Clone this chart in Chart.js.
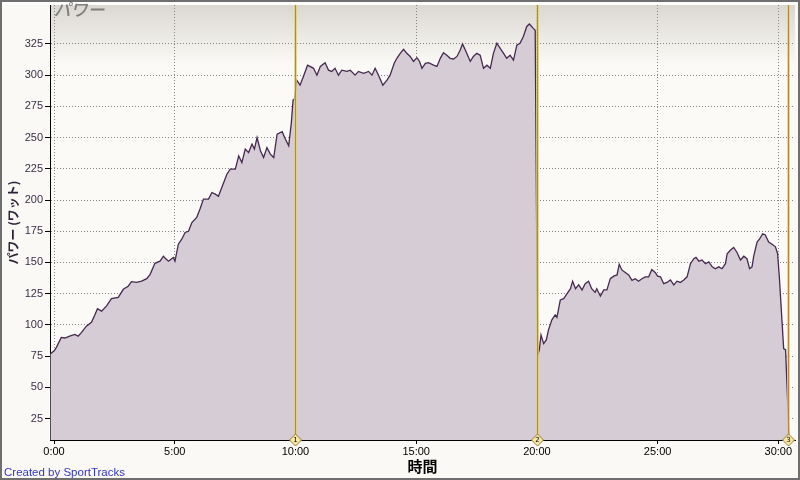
<!DOCTYPE html>
<html>
<head>
<meta charset="utf-8">
<script src="https://cdn.jsdelivr.net/npm/chart.js@4/dist/chart.umd.min.js"></script>
<style>
  html, body { margin: 0; padding: 0; background: #faf9f5; }
  #wrap { width: 800px; height: 480px; }
</style>
</head>
<body>
<div id="wrap"><canvas id="myChart" width="800" height="480"></canvas></div>
<script>
// elapsed time in minutes, power in watts
let times = [
  -0.15, 0.0, 0.1, 0.3, 0.45, 0.65, 0.86, 1.0, 1.14, 1.34, 1.55, 1.69, 1.8, 1.97, 2.17, 2.38, 2.66, 2.87, 3.07, 3.21,
  3.42, 3.63, 3.84, 3.98, 4.18, 4.39, 4.53, 4.63, 4.74, 4.94, 5.01, 5.15, 5.29, 5.43, 5.57, 5.71, 5.91, 6.05, 6.19, 6.4,
  6.54, 6.68, 6.81, 6.95, 7.16, 7.3, 7.51, 7.65, 7.78, 7.92, 8.06, 8.2, 8.3, 8.41, 8.55, 8.68, 8.82, 8.96, 9.1, 9.24,
  9.45, 9.58, 9.72, 9.83, 9.9, 9.96, 10.05, 10.19, 10.33, 10.5, 10.6, 10.75, 10.89, 11.03, 11.23, 11.37, 11.5, 11.64, 11.78, 11.92,
  12.13, 12.27, 12.47, 12.61, 12.82, 13.03, 13.17, 13.3, 13.44, 13.62, 13.79, 13.92, 14.09, 14.2, 14.34, 14.48, 14.61, 14.75, 14.89, 15.03,
  15.14, 15.24, 15.38, 15.51, 15.72, 15.86, 16.0, 16.13, 16.27, 16.41, 16.55, 16.69, 16.82, 16.92, 17.04, 17.13, 17.24, 17.37, 17.51, 17.65,
  17.79, 17.93, 18.07, 18.2, 18.34, 18.48, 18.62, 18.75, 18.89, 19.03, 19.17, 19.3, 19.44, 19.58, 19.69, 19.85, 19.93, 20.0, 20.04, 20.1,
  20.17, 20.28, 20.39, 20.48, 20.62, 20.76, 20.83, 20.97, 21.11, 21.25, 21.39, 21.48, 21.6, 21.73, 21.87, 22.0, 22.14, 22.27, 22.41, 22.48,
  22.63, 22.77, 22.9, 23.04, 23.18, 23.32, 23.41, 23.52, 23.66, 23.8, 23.94, 24.07, 24.21, 24.35, 24.49, 24.63, 24.76, 24.9, 25.0, 25.12,
  25.25, 25.39, 25.53, 25.67, 25.8, 25.94, 26.08, 26.22, 26.36, 26.5, 26.59, 26.71, 26.84, 26.98, 27.12, 27.26, 27.39, 27.53, 27.67, 27.81,
  27.88, 28.02, 28.15, 28.29, 28.43, 28.57, 28.7, 28.81, 28.91, 28.98, 29.12, 29.23, 29.35, 29.46, 29.6, 29.74, 29.88, 29.97, 30.05, 30.15,
  30.22, 30.3, 30.45
]
let watts = [
  77, 79, 82, 90, 89.5, 91, 92.4, 91, 94, 99, 102, 108, 113, 111, 115, 121, 122, 128.5, 131, 134.6,
  134, 135, 137, 140.5, 149.3, 151, 155, 153, 151, 154, 151, 164.6, 168.6, 174, 175, 182, 186, 193, 200.7, 200.7,
  206, 204.7, 203, 210, 220.7, 224.7, 224.7, 235.4, 230, 240.8, 238, 244.8, 240.8, 250, 239.5, 234, 242, 236.8, 234, 252.8,
  254.7, 248.8, 243.5, 262, 280, 281, 296, 292, 299, 308, 307, 305.5, 300, 307, 310, 304, 303, 305.5, 300, 304,
  303, 304, 300, 303, 301.4, 303, 300, 305.5, 300, 292, 296, 300, 309.5, 313.5, 317.5, 320.7, 317.5, 315, 311, 314,
  311, 305.5, 309.5, 310, 308, 307, 313.5, 318, 316, 313.5, 313, 315, 320, 325, 320, 316, 311, 315, 317.5, 316,
  305.5, 308, 305.5, 317.5, 325.6, 321.4, 317.5, 313.5, 316, 312, 324, 325.6, 331, 339, 341, 337.5, 336, 150, 76, 80,
  92, 85, 88, 96, 104, 108, 106, 120, 121, 125, 129, 135, 129, 132, 128, 133, 135, 129, 126, 129,
  123, 128, 128, 137, 139, 140, 148.6, 144, 142, 140, 135.7, 137, 135, 137, 138.5, 138.5, 144.3, 142, 139, 138.5,
  133, 134, 136, 132, 135, 134, 136, 138.5, 149, 153, 154, 151, 152, 149, 150.5, 146.5, 145, 146.5, 145, 149,
  157, 160, 162, 158, 152, 155, 153, 145, 146.5, 155, 166.4, 169, 173, 172, 166.4, 164.6, 162.5, 157, 135.7, 103.6,
  81, 80, 7
]
let x_ticks = [0, 5, 10, 15, 20, 25, 30]
let y_ticks = [25, 50, 75, 100, 125, 150, 175, 200, 225, 250, 275, 300, 325]
let marker_times = [10, 20, 30.42]
let marker_labels = ['1', '2', '3']

const fmt_time = (m) => `${Math.floor(m)}:${String(Math.round((m % 1) * 60)).padStart(2, '0')}`

// background, plot gradient, outer frame
const backdrop = {
  id: 'backdrop',
  beforeDraw(chart) {
    const {ctx, chartArea: a, width, height} = chart
    ctx.save()
    ctx.fillStyle = '#faf9f5'
    ctx.fillRect(0, 0, width, height)
    ctx.fillStyle = '#fdfdfb'
    ctx.fillRect(0, 0, width, a.top)
    let g = ctx.createLinearGradient(0, a.top, 0, a.top + 60)
    g.addColorStop(0, '#dbd7d1')
    g.addColorStop(1, '#fbfaf6')
    ctx.fillStyle = g
    ctx.fillRect(a.left, a.top, a.right - a.left, a.bottom - a.top)
    ctx.restore()
  },
  afterDraw(chart) {
    const {ctx, chartArea: a, width, height} = chart
    ctx.save()
    // slanted chart caption
    ctx.save()
    ctx.translate(a.left + 4, a.top - 4)
    ctx.transform(1, 0, -0.22, 1, 0, 0)
    ctx.fillStyle = '#7e7e7e'
    ctx.font = '500 17px "Noto Sans CJK JP"'
    ctx.textBaseline = 'top'
    ctx.fillText('パワー', 3, 0)
    ctx.restore()
    ctx.fillStyle = '#3434c8'
    ctx.font = '11.5px "Liberation Sans"'
    ctx.textBaseline = 'alphabetic'
    ctx.fillText('Created by SportTracks', 4, 476)
    ctx.strokeStyle = '#6f6f6f'
    ctx.lineWidth = 2
    ctx.strokeRect(1, 1, width - 2, height - 2)
    ctx.restore()
  }
}

// lap markers: vertical gold lines with numbered diamonds
const markers = {
  id: 'markers',
  afterDatasetsDraw(chart) {
    const {ctx, chartArea: a, scales} = chart
    ctx.save()
    marker_times.forEach((t, i) => {
      let x = Math.round(scales.x.getPixelForValue(t)) + 0.5
      ctx.strokeStyle = 'rgba(225,205,130,0.8)'
      ctx.lineWidth = 3
      ctx.beginPath(); ctx.moveTo(x, a.top); ctx.lineTo(x, a.bottom); ctx.stroke()
      ctx.strokeStyle = '#b08a35'
      ctx.lineWidth = 1
      ctx.beginPath(); ctx.moveTo(x, a.top); ctx.lineTo(x, a.bottom); ctx.stroke()
      let y = a.bottom
      ctx.fillStyle = '#f6e7a4'
      ctx.strokeStyle = '#9a7a35'
      ctx.beginPath()
      ctx.moveTo(x, y - 6); ctx.lineTo(x + 6, y); ctx.lineTo(x, y + 6); ctx.lineTo(x - 6, y); ctx.closePath()
      ctx.fill(); ctx.stroke()
      ctx.fillStyle = '#000'
      ctx.font = '7px "DejaVu Sans"'
      ctx.textAlign = 'center'
      ctx.textBaseline = 'middle'
      ctx.fillText(marker_labels[i], x, y + 0.5)
    })
    ctx.restore()
  }
}

const data = {
  datasets: [{
    label: 'パワー',
    data: times.map((t, i) => ({x: t, y: watts[i]})),
    borderColor: '#45294f',
    borderWidth: 1.3,
    backgroundColor: '#d6ccd6',
    fill: 'start',
    pointRadius: 0,
    tension: 0,
  }]
}

const config = {
  type: 'line',
  data: data,
  options: {
    responsive: false,
    animation: false,
    devicePixelRatio: 1,
    layout: {padding: {left: 0, top: 5, right: 5, bottom: 0}},
    plugins: {legend: {display: false}, tooltip: {enabled: false}},
    scales: {
      x: {
        type: 'linear',
        min: -0.166,
        max: 30.69,
        afterBuildTicks: (s) => { s.ticks = x_ticks.map(v => ({value: v})) },
        afterFit: (s) => { s.height = 40; s.paddingLeft = 0; s.paddingRight = 0 },
        grid: {color: '#858585', lineWidth: 1, tickLength: 4, tickColor: '#000'},
        border: {display: true, color: '#000', width: 1, dash: [1, 2]},
        ticks: {
          autoSkip: false, maxRotation: 0, padding: 1, color: '#000',
          font: {family: '"Liberation Sans"', size: 11},
          callback: (v) => fmt_time(v)
        },
        title: {
          display: true, text: '時間', color: '#000',
          font: {family: '"Noto Sans CJK JP"', size: 15, weight: 'bold', lineHeight: 1.2},
          padding: {top: 0, bottom: 5}
        }
      },
      y: {
        min: 7.8,
        max: 356.2,
        afterBuildTicks: (s) => { s.ticks = y_ticks.map(v => ({value: v})) },
        afterFit: (s) => { s.width = 50; s.paddingTop = 0; s.paddingBottom = 0 },
        grid: {color: '#858585', lineWidth: 1, tickLength: 5, tickColor: '#000'},
        border: {display: true, color: '#000', width: 1, dash: [1, 2]},
        ticks: {
          padding: 2, color: '#3b2e4a',
          font: {family: '"Liberation Sans"', size: 11}
        },
        title: {
          display: true, text: 'パワー (ワット)', color: '#2e2238',
          font: {family: '"Noto Sans CJK JP"', size: 12, weight: 'bold', lineHeight: 1.2},
          padding: {top: 6, bottom: 0}
        }
      }
    }
  },
  plugins: [backdrop, markers]
}

const myChart = new Chart(document.getElementById('myChart'), config)
</script>
</body>
</html>
